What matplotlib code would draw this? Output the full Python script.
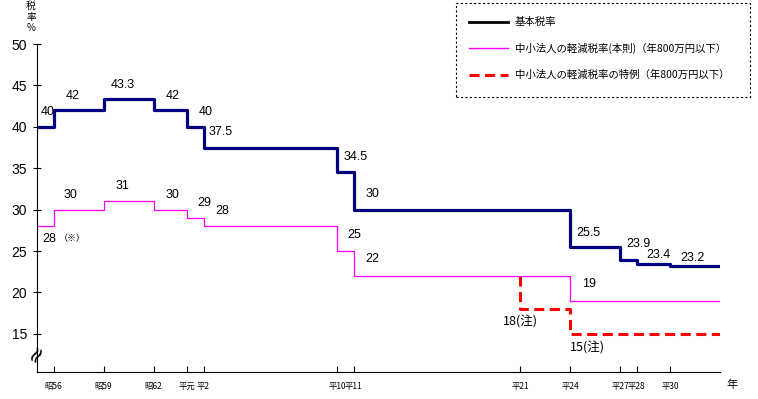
import numpy as np
import matplotlib.pyplot as plt
from matplotlib.lines import Line2D
from matplotlib.patches import Rectangle

plt.rcParams['font.family'] = ['Noto Sans CJK JP', 'DejaVu Sans']

# 基本税率 (年と税率)
kihon_x = [1980, 1981, 1984, 1987, 1989, 1990, 1998, 1999, 2012, 2015, 2016, 2018, 2021]
kihon_y = [40, 42, 43.3, 42, 40, 37.5, 34.5, 30, 25.5, 23.9, 23.4, 23.2, 23.2]

# 中小法人の軽減税率(本則)
kei_x = [1980, 1981, 1984, 1987, 1989, 1990, 1998, 1999, 2012, 2021]
kei_y = [28, 30, 31, 30, 29, 28, 25, 22, 19, 19]

# 特例
tok_x = [2009, 2009, 2012, 2012, 2021]
tok_y = [22, 18, 18, 15, 15]

tick_years = [1981, 1984, 1987, 1989, 1990, 1998, 1999, 2009, 2012, 2015, 2016, 2018]
tick_names = ['昭56', '昭59', '昭62', '平元', '平2', '平10', '平11', '平21', '平24', '平27', '平28', '平30']

kihon_lab = ['40', '42', '43.3', '42', '40', '37.5', '34.5', '30', '25.5', '23.9', '23.4', '23.2']
kei_lab = ['28', '30', '31', '30', '29', '28', '25', '22', '19']

fig = plt.figure(figsize=(7.58, 3.99), dpi=100)
ax = fig.add_axes([37/758, 27/399, (720-37)/758, (372-44)/399])

ax.step(kihon_x, kihon_y, where='post', color='#000080', lw=2.3)
ax.step(kei_x, kei_y, where='post', color='#ff00ff', lw=0.9)
ax.plot(tok_x, tok_y, color='#ff0000', lw=2.2, ls=(0, (3.3, 1.8)))

ax.set_xlim(1980, 2021)
ax.set_ylim(10.4, 50)
ax.set_yticks(range(15, 51, 5))
ax.set_xticks(tick_years)
ax.set_xticklabels(tick_names, fontsize=6)
ax.tick_params(axis='x', direction='in', length=4, pad=7)
ax.tick_params(axis='y', direction='inout', length=6, labelsize=10, pad=4)
for lab in ax.get_yticklabels():
    lab.set_family('Liberation Sans')
for s in ['top', 'right']:
    ax.spines[s].set_visible(False)

# 数値ラベル (基本税率), 左端の位置と中心の高さ
kihon_pos = [(1980.2, 41.8), (1981.7, 43.7), (1984.4, 45.1), (1987.7, 43.7), (1989.7, 41.8),
             (1990.3, 39.4), (1998.4, 36.4), (1999.7, 31.9), (2012.4, 27.2), (2015.4, 25.8),
             (2016.6, 24.5), (2018.6, 24.2)]
for (x, y), t in zip(kihon_pos, kihon_lab):
    ax.text(x, y, t, fontsize=9, ha='left', va='center', family='Liberation Sans')

kei_pos = [(1980.3, 26.5), (1981.6, 31.8), (1984.7, 32.8), (1987.7, 31.8), (1989.6, 30.8),
           (1990.7, 29.8), (1998.6, 26.9), (1999.7, 24.0), (2012.7, 21.0)]
for (x, y), t in zip(kei_pos, kei_lab):
    ax.text(x, y, t, fontsize=9, ha='left', va='center', family='Liberation Sans')
ax.text(1981.3, 26.5, '（※）', fontsize=6.5, ha='left', va='center')

ax.text(2009.0, 16.4, '18(注)', fontsize=9, ha='center', va='center')
ax.text(2013.05, 13.25, '15(注)', fontsize=9, ha='center', va='center')

# 省略記号
ax.text(1980, 12.7, '≈', fontsize=16, ha='center', va='center', rotation=60,
        family='DejaVu Sans', clip_on=False)

W, H = 758, 399
for t, yy in zip(['税', '率', '%'], [6, 17, 28]):
    fig.text(31/W, 1 - yy/H, t, fontsize=7, ha='center', va='center')
fig.text(732/W, 1 - 385/H, '年', fontsize=8, ha='center', va='center')

# 凡例 (点線の枠)
fig.add_artist(Rectangle((456/W, 1 - 97/H), (750-456)/W, (97-3)/H, transform=fig.transFigure,
                         fill=False, ec='black', lw=0.8, ls=(0, (2, 2))))
leg_lines = [('black', 2, '-'), ('#ff00ff', 1, '-'), ('#ff0000', 2.2, (0, (3.3, 1.8)))]
leg_labels = ['基本税率', '中小法人の軽減税率(本則)（年800万円以下）', '中小法人の軽減税率の特例（年800万円以下）']
leg_y = [22, 48, 75]
for (c, w, st), t, yy in zip(leg_lines, leg_labels, leg_y):
    fig.add_artist(Line2D([469/W, 508/W], [1 - yy/H, 1 - yy/H], transform=fig.transFigure,
                          color=c, lw=w, ls=st))
    fig.text(515/W, 1 - yy/H, t, fontsize=7.5, ha='left', va='center')

fig.savefig('out.png', dpi=100)
